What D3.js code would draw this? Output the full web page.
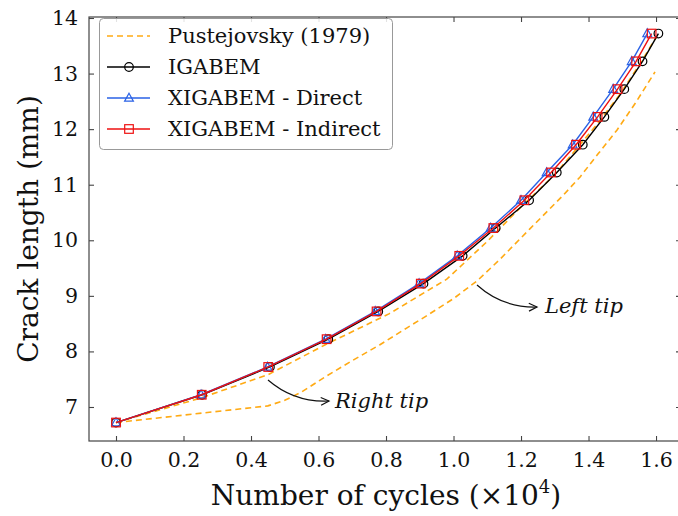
<!DOCTYPE html>
<html>
<head>
<meta charset="utf-8">
<script src="https://cdn.jsdelivr.net/npm/d3@7"></script>
<style>
  body { margin: 0; background: #fff; }
  svg text { font-family: "DejaVu Serif", "Liberation Serif", serif; }
</style>
</head>
<body>
<svg id="chart" width="678" height="516"></svg>
<script>
// crack length values (mm), same for all three numeric series
const crackLen = [6.72, 7.22, 7.72, 8.22, 8.72, 9.22, 9.72, 10.22, 10.72, 11.22, 11.72, 12.22, 12.72, 13.22, 13.72];
const cyclesIGABEM = [0, 0.255, 0.456, 0.629, 0.777, 0.911, 1.027, 1.125, 1.224, 1.306, 1.383, 1.447, 1.506, 1.560, 1.607];
const cyclesDirect = [0, 0.252, 0.449, 0.621, 0.768, 0.898, 1.011, 1.110, 1.200, 1.276, 1.353, 1.414, 1.473, 1.528, 1.574];
const cyclesIndirect = [0, 0.254, 0.451, 0.624, 0.772, 0.903, 1.017, 1.118, 1.210, 1.289, 1.363, 1.427, 1.486, 1.541, 1.587];

// Pustejovsky (1979) reference curves
const rightTipX = [0, 0.25, 0.45, 0.62, 0.81, 0.98, 1.10, 1.20, 1.30, 1.42, 1.49, 1.55, 1.60];
const rightTipY = [6.72, 7.16, 7.58, 8.12, 8.68, 9.30, 9.98, 10.60, 11.18, 12.05, 12.60, 13.15, 13.65];
const leftTipX = [0, 0.45, 0.50, 0.55, 0.614, 0.693, 0.782, 0.861, 0.92, 1.00, 1.07, 1.138, 1.227, 1.325, 1.375, 1.429, 1.484, 1.54, 1.597];
const leftTipY = [6.72, 7.02, 7.12, 7.27, 7.52, 7.81, 8.12, 8.42, 8.64, 8.95, 9.27, 9.66, 10.21, 10.81, 11.14, 11.56, 11.98, 12.48, 13.03];

const xTicks = [0, 0.2, 0.4, 0.6, 0.8, 1.0, 1.2, 1.4, 1.6];
const yTicks = [7, 8, 9, 10, 11, 12, 13, 14];

const legendLabels = ["Pustejovsky (1979)", "IGABEM", "XIGABEM - Direct", "XIGABEM - Indirect"];

const svg = d3.select("#chart");
const L = 89, R = 681, T = 17, B = 441;

const x = d3.scaleLinear().domain([-0.08, 1.674]).range([L, R]);
const y = d3.scaleLinear().domain([6.388, 14.018]).range([B, T]);

const frameCol = "#444";
const orange = "#ffaa14", blue = "#2a62e6", red = "#ee1111";

const zip = (xs, ys) => xs.map((v, i) => [v, ys[i]]);
const line = d3.line().x(d => x(d[0])).y(d => y(d[1]));

const plot = svg.append("g");

// dashed reference curves
[zip(rightTipX, rightTipY), zip(leftTipX, leftTipY)].forEach(pts => {
  plot.append("path").attr("d", line(pts))
    .attr("fill", "none").attr("stroke", orange)
    .attr("stroke-width", 1.6).attr("stroke-dasharray", "6,4");
});

const series = [
  {xs: cyclesIGABEM, color: "#000", marker: "circle"},
  {xs: cyclesDirect, color: blue, marker: "triangle"},
  {xs: cyclesIndirect, color: red, marker: "square"}
];

function drawMarker(g, type, cx, cy, color) {
  if (type === "circle") {
    g.append("circle").attr("cx", cx).attr("cy", cy).attr("r", 4.3)
      .attr("fill", "none").attr("stroke", color).attr("stroke-width", 1.2);
  } else if (type === "square") {
    g.append("rect").attr("x", cx - 4.3).attr("y", cy - 4.3).attr("width", 8.6).attr("height", 8.6)
      .attr("fill", "none").attr("stroke", color).attr("stroke-width", 1.2);
  } else {
    g.append("path").attr("d", `M${cx},${cy - 4.8}L${cx + 4.4},${cy + 3.2}L${cx - 4.4},${cy + 3.2}Z`)
      .attr("fill", "none").attr("stroke", color).attr("stroke-width", 1.2);
  }
}

series.forEach(s => {
  const pts = zip(s.xs, crackLen);
  plot.append("path").attr("d", line(pts))
    .attr("fill", "none").attr("stroke", s.color).attr("stroke-width", 1.4);
  const mg = plot.append("g");
  pts.forEach(p => drawMarker(mg, s.marker, x(p[0]), y(p[1]), s.color));
});

// frame and inward ticks on all sides
svg.append("rect").attr("x", L).attr("y", T).attr("width", R - L).attr("height", B - T)
  .attr("fill", "none").attr("stroke", frameCol).attr("stroke-width", 1.2);

const axB = d3.axisBottom(x).tickValues(xTicks).tickFormat(d3.format(".1f")).tickSizeInner(-5).tickSizeOuter(0).tickPadding(11);
const axT = d3.axisTop(x).tickValues(xTicks).tickFormat("").tickSizeInner(-5).tickSizeOuter(0);
const axL = d3.axisLeft(y).tickValues(yTicks).tickFormat(d3.format("d")).tickSizeInner(-5).tickSizeOuter(0).tickPadding(11);
const axR = d3.axisRight(y).tickValues(yTicks).tickFormat("").tickSizeInner(-5).tickSizeOuter(0);

[[axB, `translate(0,${B})`], [axT, `translate(0,${T})`], [axL, `translate(${L},0)`], [axR, `translate(${R},0)`]]
  .forEach(([ax, tr]) => {
    const g = svg.append("g").attr("transform", tr).call(ax);
    g.attr("font-family", null);
    g.select(".domain").remove();
    g.selectAll("line").attr("stroke", frameCol).attr("stroke-width", 1.1);
    g.selectAll("text").attr("font-size", 20.5).attr("fill", "#111");
  });

// axis titles
const xl = svg.append("text").attr("x", 386).attr("y", 505).attr("text-anchor", "middle")
  .attr("font-size", 28).attr("fill", "#111");
xl.append("tspan").text("Number of cycles (×10");
xl.append("tspan").attr("font-size", 18).attr("dy", -12).text("4");
xl.append("tspan").attr("dy", 12).text(")");

svg.append("text").attr("transform", "translate(38,229) rotate(-90)")
  .attr("text-anchor", "middle").attr("font-size", 28).attr("fill", "#111")
  .text("Crack length (mm)");

// annotations
function arrow(x0, y0, x1, y1, bend) {
  const mx = (x0 + x1) / 2, my = (y0 + y1) / 2;
  const dx = x1 - x0, dy = y1 - y0;
  const cx = mx - dy * bend, cy = my + dx * bend;
  svg.append("path").attr("d", `M${x0},${y0}Q${cx},${cy} ${x1},${y1}`)
    .attr("fill", "none").attr("stroke", "#111").attr("stroke-width", 1.2);
  const ang = Math.atan2(y1 - cy, x1 - cx);
  const h = 9, a = 0.45;
  svg.append("path")
    .attr("d", `M${x1 - h * Math.cos(ang - a)},${y1 - h * Math.sin(ang - a)}L${x1},${y1}L${x1 - h * Math.cos(ang + a)},${y1 - h * Math.sin(ang + a)}`)
    .attr("fill", "none").attr("stroke", "#111").attr("stroke-width", 1.2);
}
arrow(268, 380, 329, 401, 0.2);
arrow(477, 285, 537, 307, 0.2);

svg.append("text").attr("x", 335).attr("y", 408).attr("font-size", 21)
  .attr("font-style", "italic").attr("fill", "#111").text("Right tip");
svg.append("text").attr("x", 545).attr("y", 313).attr("font-size", 21)
  .attr("font-style", "italic").attr("fill", "#111").text("Left tip");

// legend
const leg = svg.append("g");
leg.append("rect").attr("x", 99.5).attr("y", 18.5).attr("width", 293).attr("height", 131)
  .attr("rx", 4).attr("fill", "#fff").attr("fill-opacity", 0.85)
  .attr("stroke", "#999").attr("stroke-width", 1);
const legStyles = [
  {color: orange, dash: "6,4", marker: null},
  {color: "#000", dash: null, marker: "circle"},
  {color: blue, dash: null, marker: "triangle"},
  {color: red, dash: null, marker: "square"}
];
legendLabels.forEach((lab, i) => {
  const ly = 36 + i * 31;
  const st = legStyles[i];
  leg.append("line").attr("x1", 107).attr("x2", 150).attr("y1", ly).attr("y2", ly)
    .attr("stroke", st.color).attr("stroke-width", 1.4)
    .attr("stroke-dasharray", st.dash);
  if (st.marker) drawMarker(leg, st.marker, 129, ly, st.color);
  leg.append("text").attr("x", 168).attr("y", ly + 7).attr("font-size", 21)
    .attr("fill", "#111").text(lab);
});
</script>
</body>
</html>
